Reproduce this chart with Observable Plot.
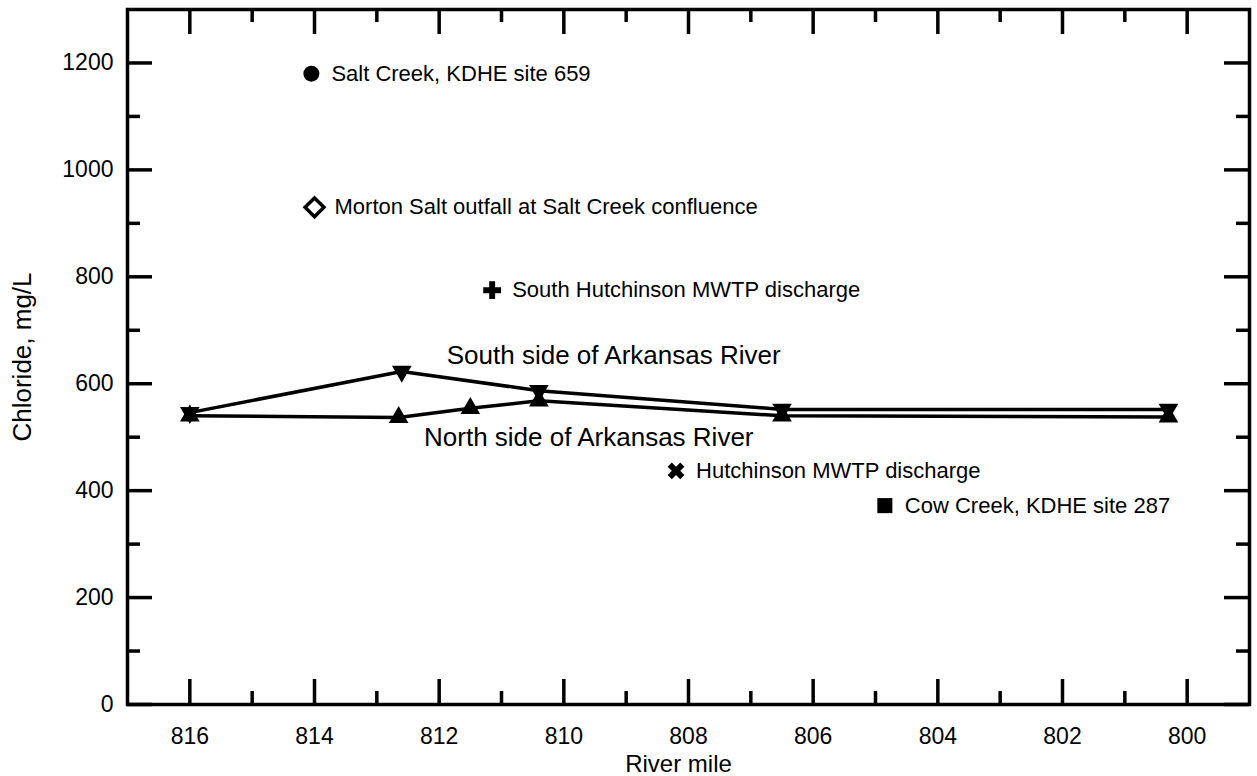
<!DOCTYPE html>
<html>
<head>
<meta charset="utf-8">
<script src="https://cdn.jsdelivr.net/npm/d3@7"></script>
<script src="https://cdn.jsdelivr.net/npm/@observablehq/plot@0.6"></script>
<style>
  html, body { margin: 0; padding: 0; background: #fff; }
  #chart svg { display: block; }
</style>
</head>
<body>
<div id="chart"></div>
<script>
// ---- data ----
const southMile = [816, 812.6, 810.4, 806.5, 800.3];
const southCl   = [546, 623, 587, 552, 552];
const northMile = [816, 812.65, 811.5, 810.4, 806.5, 800.3];
const northCl   = [540, 537, 554, 568, 540, 538];

const siteNames = [
  "Salt Creek, KDHE site 659",
  "Morton Salt outfall at Salt Creek confluence",
  "South Hutchinson MWTP discharge",
  "Hutchinson MWTP discharge",
  "Cow Creek, KDHE site 287"
];
const siteMile = [814.05, 814.0, 811.15, 808.2, 804.85];
const siteCl   = [1180, 930, 775, 437, 372];

const seriesLabels    = ["South side of Arkansas River", "North side of Arkansas River"];
const seriesLabelMile = [809.2, 809.6];
const seriesLabelCl   = [652, 499];

const xMajorTicks = [816, 814, 812, 810, 808, 806, 804, 802, 800];
const xMinorTicks = [815, 813, 811, 809, 807, 805, 803, 801];
const yMajorTicks = [0, 200, 400, 600, 800, 1000, 1200];
const yMinorTicks = [100, 300, 500, 700, 900, 1100];

const xTitle = "River mile";
const yTitle = "Chloride, mg/L";

// ---- build tables ----
const south = southMile.map((m, i) => ({mile: m, cl: southCl[i]}));
const north = northMile.map((m, i) => ({mile: m, cl: northCl[i]}));
const sites = siteNames.map((n, i) => ({name: n, mile: siteMile[i], cl: siteCl[i]}));
const seriesText = seriesLabels.map((t, i) => ({text: t, mile: seriesLabelMile[i], cl: seriesLabelCl[i]}));

// ---- custom symbols ----
const triDown = {
  draw(ctx, size) {
    const y = -Math.sqrt(size / (Math.sqrt(3) * 3));
    ctx.moveTo(0, -y * 2);
    ctx.lineTo(-Math.sqrt(3) * y, y);
    ctx.lineTo(Math.sqrt(3) * y, y);
    ctx.closePath();
  }
};
const diamondSq = {
  draw(ctx, size) {
    const r = Math.sqrt(size / 2);
    ctx.moveTo(0, -r); ctx.lineTo(r, 0); ctx.lineTo(0, r); ctx.lineTo(-r, 0); ctx.closePath();
  }
};

const FONT = "'Liberation Sans', Arial, Helvetica, sans-serif";
const W = 1257, H = 776, mL = 127, mR = 8, mT = 9, mB = 72;
const plotW = W - mL - mR, plotH = H - mT - mB;
const majorLen = 25, minorLen = 13, tw = 3.5;

// inward ticks: full-span tick marks trimmed by insets to a fixed pixel length
const tickStyle = {stroke: "black", strokeWidth: tw, strokeLinecap: "butt"};
const xTicksBottom = (data, len) => Plot.tickX(data, {x: d => d, insetTop: plotH - len, ...tickStyle});
const xTicksTop    = (data, len) => Plot.tickX(data, {x: d => d, insetBottom: plotH - len, ...tickStyle});
const yTicksLeft   = (data, len) => Plot.tickY(data, {y: d => d, insetRight: plotW - len, ...tickStyle});
const yTicksRight  = (data, len) => Plot.tickY(data, {y: d => d, insetLeft: plotW - len, ...tickStyle});

const site = i => sites.filter((d, j) => j === i);

const chart = Plot.plot({
  width: W,
  height: H,
  marginLeft: mL,
  marginRight: mR,
  marginTop: mT,
  marginBottom: mB,
  style: {fontFamily: FONT, fontSize: "23px", background: "white", color: "black"},
  x: {domain: [817, 799], axis: null},
  y: {domain: [0, 1300], axis: null},
  marks: [
    // tick labels
    Plot.axisX(xMajorTicks, {anchor: "bottom", tickSize: 0, tickPadding: 23, label: null, fontSize: 23, tickFormat: d => String(d)}),
    Plot.axisY(yMajorTicks, {anchor: "left", tickSize: 0, tickPadding: 14, label: null, fontSize: 23, tickFormat: d => String(d)}),
    // inward ticks on all four sides
    xTicksBottom(xMajorTicks, majorLen),
    xTicksBottom(xMinorTicks, minorLen),
    xTicksTop(xMajorTicks, majorLen),
    xTicksTop(xMinorTicks, minorLen),
    yTicksLeft(yMajorTicks, majorLen),
    yTicksLeft(yMinorTicks, minorLen),
    yTicksRight(yMajorTicks, majorLen),
    yTicksRight(yMinorTicks, minorLen),
    Plot.frame({stroke: "black", strokeWidth: tw}),
    // axis titles
    Plot.text([xTitle], {frameAnchor: "bottom", textAnchor: "middle", dx: -10, dy: 67, fontSize: 24, text: d => d}),
    Plot.text([yTitle], {frameAnchor: "left", textAnchor: "middle", dx: -105, rotate: -90, fontSize: 26, text: d => d}),
    // river series
    Plot.line(south, {x: "mile", y: "cl", stroke: "black", strokeWidth: 3.5}),
    Plot.line(north, {x: "mile", y: "cl", stroke: "black", strokeWidth: 3.5}),
    Plot.dot(south, {x: "mile", y: "cl", symbol: triDown, r: 7.3, fill: "black", stroke: "none"}),
    Plot.dot(north, {x: "mile", y: "cl", symbol: "triangle", r: 7.3, fill: "black", stroke: "none"}),
    Plot.text(seriesText, {x: "mile", y: "cl", text: "text", fontSize: 26, textAnchor: "middle"}),
    // tributary / discharge sites
    Plot.dot(site(0), {x: "mile", y: "cl", symbol: "circle", r: 8, fill: "black", stroke: "none"}),
    Plot.dot(site(1), {x: "mile", y: "cl", symbol: diamondSq, r: 7.5, fill: "white", stroke: "black", strokeWidth: 3.5}),
    Plot.dot(site(2), {x: "mile", y: "cl", symbol: "cross", r: 7.5, fill: "black", stroke: "none"}),
    Plot.dot(site(3), {x: "mile", y: "cl", symbol: "cross", rotate: 45, r: 7.5, fill: "black", stroke: "none"}),
    Plot.dot(site(4), {x: "mile", y: "cl", symbol: "square", r: 8.5, fill: "black", stroke: "none"}),
    Plot.text(sites, {x: "mile", y: "cl", text: "name", textAnchor: "start", dx: 20, fontSize: 22})
  ]
});
document.getElementById("chart").appendChild(chart);
</script>
</body>
</html>
